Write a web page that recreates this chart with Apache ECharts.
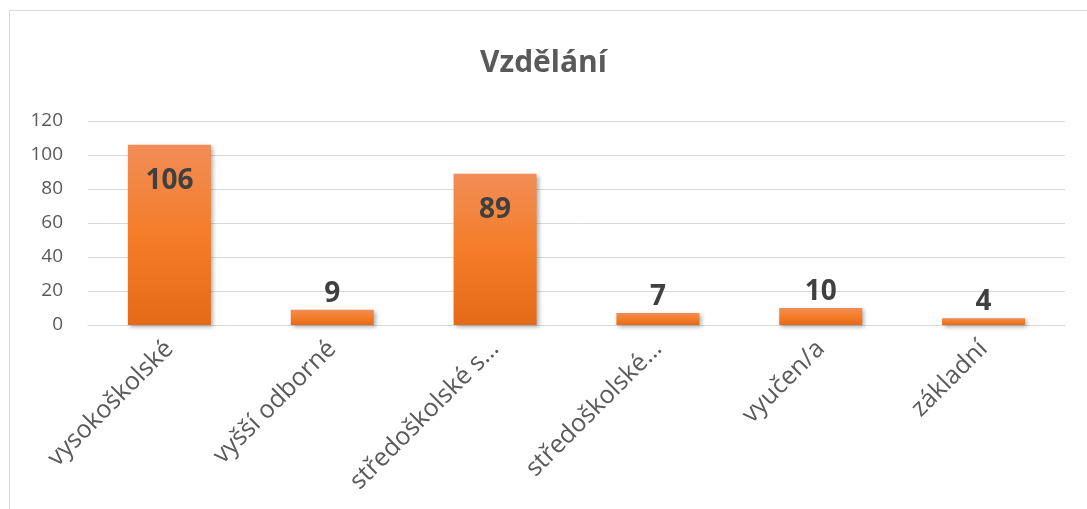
<!DOCTYPE html>
<html>
<head>
<meta charset="utf-8">
<script src="https://cdn.jsdelivr.net/npm/echarts@6/dist/echarts.min.js"></script>
<style>
  html, body { margin: 0; padding: 0; background: #fff; }
  #chart { width: 1087px; height: 509px; }
</style>
</head>
<body>
<div id="chart"></div>
<script>
  // data
  var categories = ['vysokoškolské', 'vyšší odborné', 'středoškolské s…', 'středoškolské…', 'vyučen/a', 'základní'];
  var values = [106, 9, 89, 7, 10, 4];
  var yTicks = [0, 20, 40, 60, 80, 100, 120];

  var font = '"Open Sans", sans-serif';
  var myChart = echarts.init(document.getElementById('chart'));

  // big bars get their number inside, small ones above
  var barData = values.map(function (v) {
    var inside = v > 50;
    return {
      value: v,
      label: {
        position: inside ? 'insideTop' : 'top',
        distance: inside ? 22 : 2
      }
    };
  });

  var option = {
    backgroundColor: '#fff',
    animation: false,
    title: {
      text: 'Vzdělání',
      left: 'center',
      top: 43,
      textStyle: { fontFamily: font, fontSize: 30, fontWeight: 'bold', color: '#595959' }
    },
    graphic: [{
      type: 'rect',
      shape: { x: 9.5, y: 10.5, width: 1200, height: 600 },
      style: { fill: 'none', stroke: '#D9D9D9', lineWidth: 1 },
      silent: true
    }],
    grid: { left: 88, right: 22, top: 121, bottom: 184 },
    xAxis: {
      type: 'category',
      data: categories,
      axisLine: { lineStyle: { color: '#D9D9D9', width: 1 } },
      axisTick: { show: false },
      axisLabel: {
        rotate: 45,
        interval: 0,
        margin: 20,
        fontFamily: font,
        fontSize: 25,
        color: '#595959'
      }
    },
    yAxis: {
      type: 'value',
      min: yTicks[0],
      max: yTicks[yTicks.length - 1],
      interval: 20,
      axisLine: { show: false },
      axisTick: { show: false },
      splitLine: { lineStyle: { color: '#D9D9D9', width: 1 } },
      axisLabel: { fontFamily: font, fontSize: 19, color: '#595959', margin: 25 }
    },
    series: [{
      type: 'bar',
      data: barData,
      barWidth: 83,
      itemStyle: {
        color: new echarts.graphic.LinearGradient(0, 0, 0, 1, [
          { offset: 0, color: '#F18D57' },
          { offset: 0.5, color: '#F47D28' },
          { offset: 1, color: '#E56A18' }
        ]),
        shadowBlur: 4,
        shadowColor: 'rgba(0,0,0,0.3)',
        shadowOffsetX: 2,
        shadowOffsetY: 2
      },
      label: {
        show: true,
        fontFamily: font,
        fontSize: 28,
        fontWeight: 'bold',
        color: '#404040'
      }
    }]
  };

  myChart.setOption(option);
</script>
</body>
</html>
